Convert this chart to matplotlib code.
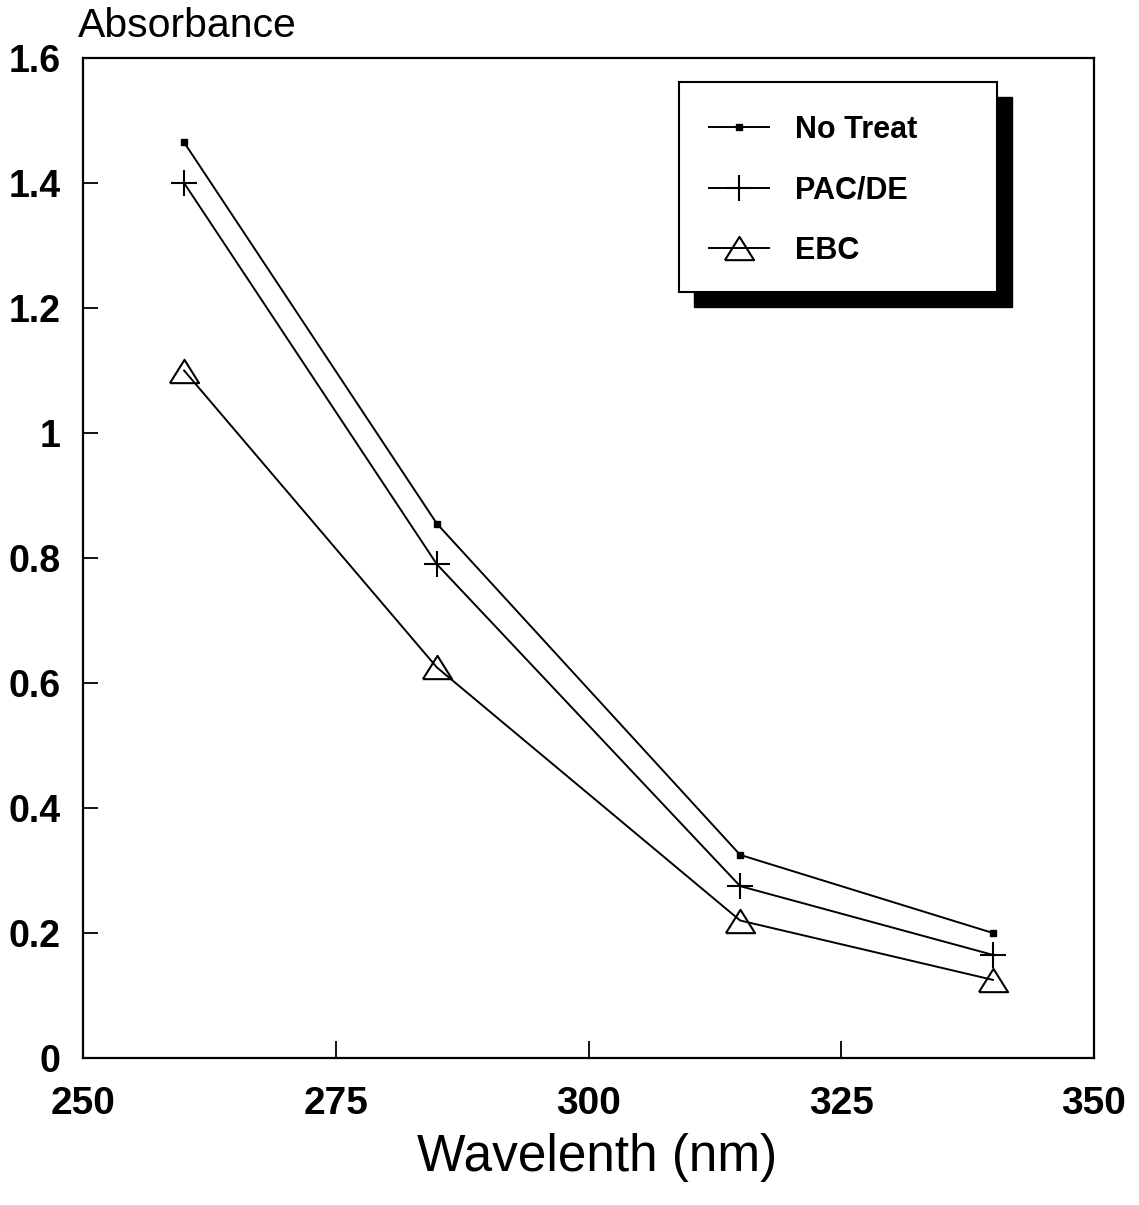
import matplotlib
matplotlib.use("Agg")
import matplotlib.pyplot as plt
from matplotlib.patches import Rectangle
from matplotlib.ticker import FixedLocator, FuncFormatter

# ---- data ----
wavelength = [260, 285, 315, 340]
no_treat = [1.465, 0.855, 0.325, 0.200]
pac_de = [1.400, 0.790, 0.275, 0.165]
ebc = [1.100, 0.625, 0.220, 0.125]
series_labels = ["No Treat", "PAC/DE", "EBC"]
x_ticks = [250, 275, 300, 325, 350]
y_ticks = [0, 0.2, 0.4, 0.6, 0.8, 1.0, 1.2, 1.4, 1.6]

plt.rcParams['font.family'] = ['Liberation Sans', 'DejaVu Sans']

W, H = 1139, 1205
fig = plt.figure(figsize=(W / 100, H / 100), dpi=100)
L, R, T, B = 83, 1094, 58, 1058
ax = fig.add_axes([L / W, 1 - B / H, (R - L) / W, (B - T) / H])

lw = 1.4
tri = [(-1, -0.8), (1, -0.8), (0, 0.8), (-1, -0.8)]
ax.plot(wavelength, no_treat, color='black', lw=lw, marker='s', markersize=5,
        label=series_labels[0])
ax.plot(wavelength, pac_de, color='black', lw=lw, marker='+', markersize=19,
        markeredgewidth=1.5, label=series_labels[1])
ax.plot(wavelength, ebc, color='black', lw=lw, marker=tri, markersize=21,
        markerfacecolor='none', markeredgewidth=1.5, label=series_labels[2])

ax.set_xlim(250, 350)
ax.set_ylim(0, 1.6)
ax.xaxis.set_major_locator(FixedLocator(x_ticks))
ax.yaxis.set_major_locator(FixedLocator(y_ticks))
ax.yaxis.set_major_formatter(FuncFormatter(lambda v, p: "%g" % v))
ax.xaxis.set_major_formatter(FuncFormatter(lambda v, p: "%g" % v))
ax.tick_params(axis='y', direction='in', length=11, width=1.3, pad=16,
               labelsize=27)
ax.tick_params(axis='x', direction='in', length=12, width=1.3, pad=20,
               labelsize=28)
for lab in ax.get_xticklabels() + ax.get_yticklabels():
    lab.set_fontweight('bold')
for s in ax.spines.values():
    s.set_linewidth(1.6)

# legend frame with drop shadow
fx0, fx1, fy0, fy1 = 679, 997, 82, 292
off = 15
def to_ax(px, py):
    return (px - L) / (R - L), (B - py) / (B - T)
sx, sy = to_ax(fx0 + off, fy1 + off)
ax.add_patch(Rectangle((sx, sy), (fx1 - fx0) / (R - L), (fy1 - fy0) / (B - T),
                       transform=ax.transAxes, facecolor='black',
                       edgecolor='black', zorder=5))
bx, by = to_ax(fx0, fy1)
ax.add_patch(Rectangle((bx, by), (fx1 - fx0) / (R - L), (fy1 - fy0) / (B - T),
                       transform=ax.transAxes, facecolor='white',
                       edgecolor='black', lw=1.5, zorder=6))
lx, ly = to_ax(709, 115)
leg = ax.legend(loc='upper left', bbox_to_anchor=(lx, ly), frameon=False,
                borderpad=0, borderaxespad=0, handlelength=1.95,
                handletextpad=0.88, labelspacing=1.0,
                prop={'size': 22, 'weight': 'bold'})
leg.set_zorder(7)

fig.text(78 / W, 1 - 37 / H, "Absorbance", fontsize=29.5, ha='left',
         va='baseline')
fig.text(597 / W, 1 - 1157 / H, "Wavelenth (nm)", fontsize=37, ha='center',
         va='center')

fig.savefig("out.png", dpi=100)
